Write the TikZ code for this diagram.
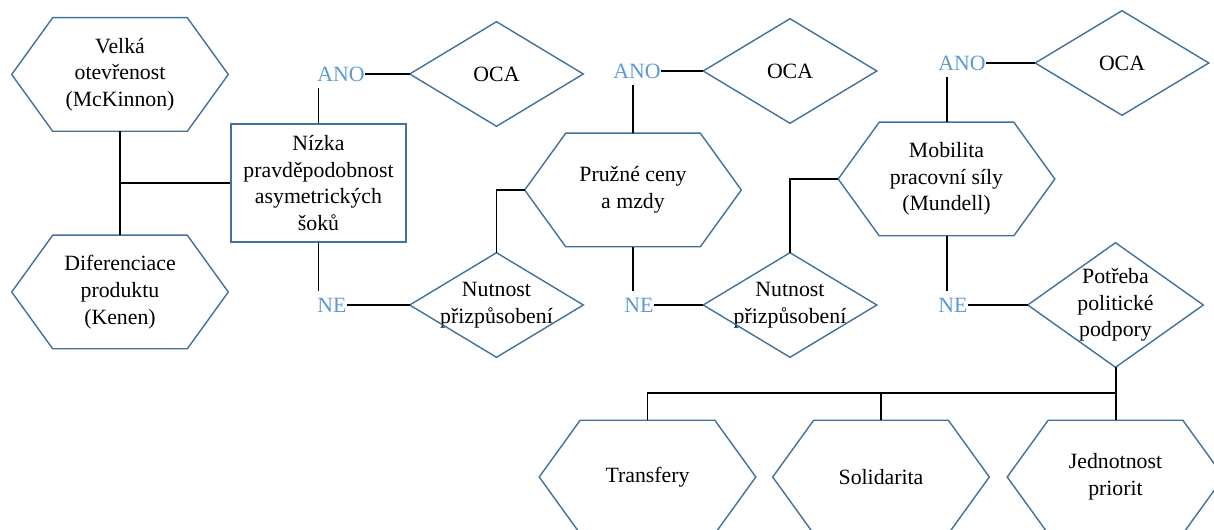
\documentclass[tikz,border=0pt]{standalone}
\usepackage{fontspec}
\setmainfont{Liberation Serif}
\definecolor{shapeblue}{HTML}{41719C}
\definecolor{labelblue}{HTML}{5B9BD5}
\begin{document}
\begin{tikzpicture} [x=0.025cm, y=-0.025cm, font=\fontsize{15.5}{19}\selectfont,
        hexa/.style={minimum width=5.4cm, minimum height=2.825cm, align=center},
        rhomb/.style={minimum width=4.325cm, minimum height=2.6cm, align=center},
        answer/.style={text=labelblue, inner xsep=0pt, inner ysep=.17cm, anchor=west},
        outline/.style={draw=shapeblue, line width=1pt, line join=miter},
        link/.style={draw, line width=1.4pt}]
    \useasboundingbox (0,0) rectangle (1214,530);

    % left part
    \node (Velka) [hexa] at(120,74.5) {Velká\\otevřenost\\(McKinnon)};
    \node (Dif) [hexa] at(120,292) {Diferenciace\\produktu\\(Kenen)};
    \node (Soky) [outline, rectangle, minimum width=4.375cm, minimum height=2.95cm, align=center] at(318.5,183) {Nízka\\pravděpodobnost\\asymetrických\\šoků};
    \node (Ano1) [answer] at(317,74) {ANO};
    \node (Ne1) [answer] at(317,305) {NE};
    \node (Oca1) [rhomb] at(496.5,74) {OCA};
    \node (Nutnost1) [rhomb] at(496.5,305) {Nutnost\\přizpůsobení};

    % middle part
    \node (Pruzne) [hexa] at(633,190) {Pružné ceny\\a mzdy};
    \node (Ano2) [answer] at(613,71) {ANO};
    \node (Ne2) [answer] at(624,305) {NE};
    \node (Oca2) [rhomb] at(790,71) {OCA};
    \node (Nutnost2) [rhomb] at(790,305) {Nutnost\\přizpůsobení};

    % right part
    \node (Mobilita) [hexa] at(946.5,179) {Mobilita\\pracovní síly\\(Mundell)};
    \node (Ano3) [answer] at(938,63) {ANO};
    \node (Ne3) [answer] at(938,305) {NE};
    \node (Oca3) [rhomb] at(1122,63) {OCA};
    \node (Potreba) [rhomb, minimum width=4.375cm, minimum height=3.1cm] at(1115.5,305) {Potřeba\\politické\\podpory};
    \node (Transfery) [hexa] at(647.5,477) {Transfery};
    \node (Solidarita) [hexa] at(881,477) {Solidarita};
    \node (Jednotnost) [hexa] at(1115.5,477) {Jednotnost\\priorit};
    \coordinate (Bus) at (1115.5,393);

    \foreach \n in {Velka, Dif, Pruzne, Mobilita, Transfery, Solidarita, Jednotnost}
        \draw[outline] (\n.west) -- ([xshift=1.025cm]\n.north west) -- ([xshift=-1.025cm]\n.north east) -- (\n.east)
            -- ([xshift=-1.025cm]\n.south east) -- ([xshift=1.025cm]\n.south west) -- cycle;
    \foreach \n in {Oca1, Oca2, Oca3, Nutnost1, Nutnost2, Potreba}
        \draw[outline] (\n.west) -- (\n.north) -- (\n.east) -- (\n.south) -- cycle;

    \draw[link] (Velka.south) -- (Dif.north);
    \draw[link] (Soky.west) -- (Soky.west -| Velka.south);
    \draw[link] (Soky.north) -- (Soky.north |- Ano1.south);
    \draw[link] (Ano1.east) -- (Oca1.west);
    \draw[link] (Soky.south) -- (Soky.south |- Ne1.north);
    \draw[link] (Ne1.east) -- (Nutnost1.west);

    \draw[link] (Pruzne.west) -| (Nutnost1.north);
    \draw[link] (Pruzne.north) -- (Pruzne.north |- Ano2.south);
    \draw[link] (Ano2.east) -- (Oca2.west);
    \draw[link] (Pruzne.south) -- (Pruzne.south |- Ne2.north);
    \draw[link] (Ne2.east) -- (Nutnost2.west);

    \draw[link] (Mobilita.west) -| (Nutnost2.north);
    \draw[link] (Mobilita.north) -- (Mobilita.north |- Ano3.south);
    \draw[link] (Ano3.east) -- (Oca3.west);
    \draw[link] (Mobilita.south) -- (Mobilita.south |- Ne3.north);
    \draw[link] (Ne3.east) -- (Potreba.west);

    \draw[link] (Potreba.south) -- (Bus) -| (Transfery.north);
    \draw[link] (Bus) -| (Solidarita.north);
    \draw[link] (Bus) -- (Jednotnost.north);
\end{tikzpicture}
\end{document}
